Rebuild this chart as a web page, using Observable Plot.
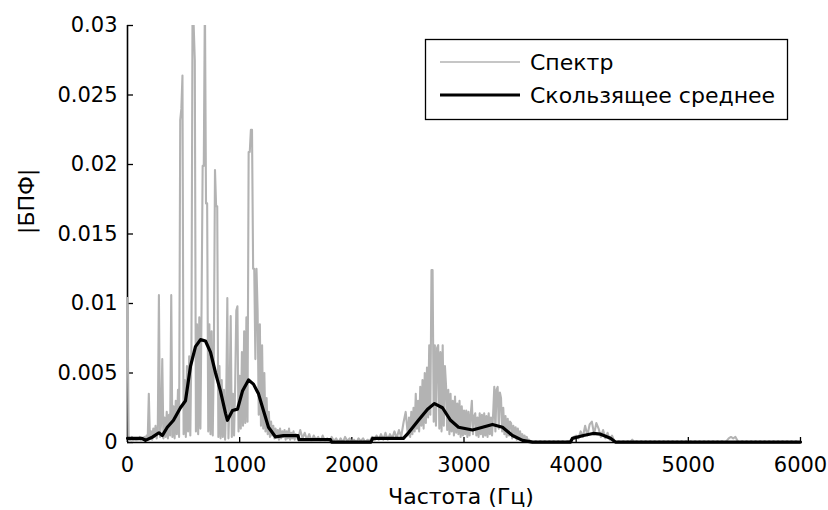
<!DOCTYPE html>
<html><head><meta charset="utf-8">
<script src="https://cdn.jsdelivr.net/npm/d3@7"></script>
<script src="https://cdn.jsdelivr.net/npm/@observablehq/plot@0.6"></script>
<style>
body{margin:0;background:#fff;}
#chart{position:relative;width:828px;height:510px;}
</style></head><body><div id="chart"></div>
<script>
// amplitudes are in units of 1e-4
const unit = 1e-4;

// Spectrum, 0–1500 Hz, every 10 Hz
const specA = [
  104, 3, 1, 2, 4, 1, 3, 2, 1, 3,
  2, 4, 1, 3, 2, 4, 1, 5, 2, 35,
  3, 8, 2, 10, 4, 12, 3, 9, 106, 4,
  14, 60, 3, 18, 4, 22, 3, 20, 5, 106,
  4, 26, 3, 30, 6, 38, 4, 232, 240, 264,
  6, 45, 4, 55, 8, 62, 5, 70, 320, 300,
  275, 8, 85, 6, 90, 10, 95, 199, 199, 320,
  172, 172, 8, 85, 6, 80, 5, 65, 196, 170,
  170, 4, 55, 3, 45, 4, 38, 2, 30, 104,
  3, 32, 91, 4, 35, 5, 42, 95, 98, 8,
  48, 10, 65, 12, 80, 14, 90, 15, 209, 209,
  225, 225, 125, 125, 60, 125, 95, 20, 85, 12,
  70, 10, 50, 8, 32, 6, 22, 4, 15, 5,
  12, 3, 10, 4, 9, 2, 10, 3, 8, 4,
  9, 2, 8, 3, 10, 2, 7, 3, 8, 2,
  6
];
// Spectrum, 1520–2480 Hz, every 20 Hz
const specB = [
  2, 9, 3, 7, 2, 6, 1, 5, 2,
  4, 1, 5, 1, 3, 0, 4, 1, 3, 0,
  3, 0, 4, 1, 3, 0, 2, 0, 3, 1,
  3, 0, 2, 1, 4, 1, 5, 2, 6, 2,
  7, 2, 6, 3, 8, 3, 9, 4, 14, 22
];
// Spectrum, 2500–3600 Hz, every 10 Hz
const specC = [
  5, 18, 4, 22, 6, 25, 8, 35, 10, 30,
  8, 40, 12, 45, 10, 50, 14, 54, 18, 70,
  20, 124, 124, 15, 70, 12, 68, 70, 10, 65,
  8, 70, 12, 55, 41, 9, 38, 6, 35, 8,
  30, 5, 33, 7, 28, 6, 30, 4, 26, 5,
  23, 6, 23, 4, 22, 5, 20, 30, 6, 19,
  21, 5, 18, 4, 21, 6, 20, 4, 21, 5,
  19, 4, 21, 6, 18, 5, 21, 40, 8, 38,
  40, 10, 36, 32, 8, 25, 6, 19, 4, 17,
  5, 15, 14, 3, 12, 4, 11, 2, 10, 3,
  8, 2, 6, 1, 5, 2, 4, 1, 2, 1,
  1
];
// Spectrum, 3620–6000 Hz, every 20 Hz
const specD = [
  0, 1, 0, 1, 0, 1, 0, 1, 0,
  1, 0, 1, 0, 1, 0, 1, 1, 2, 4,
  5, 3, 8, 4, 12, 5, 13, 15, 6, 14,
  10, 4, 9, 3, 7, 2, 5, 1, 0, 1,
  0, 1, 0, 1, 0, 2, 0, 1, 0, 1,
  0, 1, 0, 1, 0, 1, 0, 1, 0, 1,
  0, 1, 0, 1, 0, 1, 0, 1, 0, 1,
  0, 1, 0, 1, 0, 1, 0, 1, 0, 1,
  0, 1, 0, 1, 0, 1, 0, 1, 3, 4,
  3, 4, 1, 0, 1, 0, 1, 0, 1, 0,
  1, 0, 1, 0, 1, 0, 1, 0, 1, 0,
  1, 0, 1, 0, 1, 0, 1, 0, 1, 0,
  0
];

// Moving average
const avgFreq = [0, 130, 160, 225, 280, 310, 355, 410, 472, 517, 562, 606, 651, 695, 740, 785, 829, 874, 891, 936, 981, 1025, 1079, 1123, 1168, 1212, 1257, 1320, 1390, 1520, 1530, 1810, 1820, 2170, 2185, 2460, 2505, 2594, 2675, 2737, 2808, 2880, 2951, 3076, 3165, 3254, 3343, 3432, 3521, 3610, 3950, 3967, 4065, 4150, 4217, 4306, 4350, 6000];
const avgVal  = [3, 3, 1.5, 4, 7, 5, 11, 16, 25, 30, 55, 69, 74, 73, 65, 50, 37, 21, 16, 23, 24, 37, 45, 42, 35, 23, 11, 4, 5, 5, 2, 2, 0.3, 0.3, 3, 3, 7, 16, 24, 28, 25, 16, 11, 9, 11, 13, 11, 5, 1.5, 0.3, 0.3, 3, 5, 6.5, 6, 3, 0.3, 0.3];

const xTicks = [0, 1000, 2000, 3000, 4000, 5000, 6000];
const xTickLabels = ["0", "1000", "2000", "3000", "4000", "5000", "6000"];
const yTicks = [0, 0.005, 0.01, 0.015, 0.02, 0.025, 0.03];
const yTickLabels = ["0", "0.005", "0.01", "0.015", "0.02", "0.025", "0.03"];
const seriesNames = ["Спектр", "Скользящее среднее"];
const xLabel = "Частота (Гц)";
const yLabel = "|БПФ|";

function seg(start, step, vals) { return vals.map((v, i) => ({f: start + i * step, a: v * unit})); }
const spectrum = [
  ...seg(0, 10, specA), ...seg(1520, 20, specB), ...seg(2500, 10, specC), ...seg(3620, 20, specD)
];
const avg = avgFreq.map((f, i) => ({f, a: avgVal[i] * unit}));

const chart = Plot.plot({
  width: 828, height: 510,
  marginLeft: 127, marginRight: 28, marginTop: 25, marginBottom: 68,
  style: {fontFamily: "DejaVu Sans", fontSize: "21px", color: "black", background: "white", overflow: "visible"},
  x: {domain: [0, 6000]},
  y: {domain: [0, 0.03]},
  marks: [
    Plot.ruleX([0], {stroke: "black", strokeWidth: 1.6}),
    Plot.ruleY([0], {stroke: "black", strokeWidth: 1.6}),
    Plot.axisX(xTicks, {tickSize: -5, tickPadding: 20, strokeWidth: 1.3, tickFormat: (d) => xTickLabels[xTicks.indexOf(d)], label: null}),
    Plot.axisY(yTicks, {tickSize: -6, tickPadding: 16, strokeWidth: 1.3, tickFormat: (d) => yTickLabels[yTicks.indexOf(d)], label: null}),
    Plot.line(spectrum, {x: "f", y: "a", stroke: "#b3b3b3", strokeWidth: 2.1, clip: true}),
    Plot.line(avg, {x: "f", y: "a", stroke: "black", strokeWidth: 3.2, strokeLinejoin: "round"}),
    Plot.text([xLabel], {frameAnchor: "bottom", dy: 54, dx: -3, fontSize: 22, lineAnchor: "middle"}),
    Plot.text([yLabel], {frameAnchor: "left", dx: -101, rotate: -90, fontSize: 22, lineAnchor: "middle"})
  ]
});
document.getElementById("chart").appendChild(chart);

// legend inside the plot area
const svg = d3.select(chart);
const lg = svg.append("g");
lg.append("rect").attr("x", 425.5).attr("y", 39.5).attr("width", 362).attr("height", 80)
  .attr("fill", "white").attr("stroke", "black").attr("stroke-width", 1.3);
const rows = [{y: 62, stroke: "#b3b3b3", w: 1.5}, {y: 95, stroke: "black", w: 3.2}];
rows.forEach((r, i) => {
  lg.append("line").attr("x1", 440).attr("x2", 520).attr("y1", r.y).attr("y2", r.y)
    .attr("stroke", r.stroke).attr("stroke-width", r.w);
  lg.append("text").attr("x", 530).attr("y", r.y).attr("dy", "0.35em")
    .attr("text-anchor", "start")
    .attr("font-family", "DejaVu Sans").attr("font-size", 22).attr("fill", "black").text(seriesNames[i]);
});
</script></body></html>
